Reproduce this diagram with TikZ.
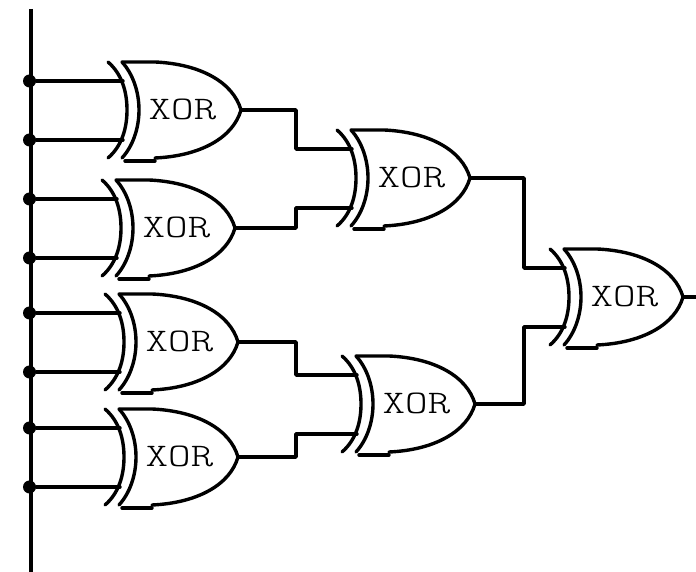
\documentclass[tikz,border=0pt]{standalone}
\usepackage{tikz}
\usepackage{fontspec}
\setmonofont{Latin Modern Mono Light}

\tikzset{
    wire/.style={line width=3.4pt, line cap=round, line join=round},
    busdot/.style={circle, fill=black, inner sep=0pt, minimum size=13pt},
    gatelabel/.style={font=\ttfamily\fontsize{33}{33}\selectfont, xscale=1.3, transform shape, inner sep=0pt},
    xorgate/.pic={
        % Back arcs
        \draw[wire] (0,48) .. controls (14,36) and (19,18) .. (19,0) .. controls (19,-18) and (14,-36) .. (0,-48);
        \draw[wire] (14,48) .. controls (25,36) and (31,18) .. (31,0) .. controls (31,-18) and (25,-36) .. (14,-48);
        % Body
        \draw[wire] (14,48) -- (47,48) .. controls (92,46) and (125,28) .. (133,0) .. controls (125,-28) and (92,-46) .. (47,-48);
        \draw[wire] (17,-51) -- (47,-51);
        \node[gatelabel] (label) at (74.5,1) {XOR};
        % Terminals
        \coordinate (a) at (15,29);
        \coordinate (b) at (15,-30);
        \coordinate (o) at (133,0);
    }
}

\begin{document}
\begin{tikzpicture}[x=1pt, y=1pt]
    \useasboundingbox (0,0) rectangle (696,572);

    % Gates
    \pic (g1) at (108,462) {xorgate};
    \pic (g2) at (102,344) {xorgate};
    \pic (g3) at (105,230) {xorgate};
    \pic (g4) at (105,115) {xorgate};
    \pic (g5) at (337,394) {xorgate};
    \pic (g6) at (342,168) {xorgate};
    \pic (g7) at (550,275) {xorgate};

    % Bus
    \coordinate (bustop) at (31,563);
    \coordinate (busbot) at (31,0);
    \draw[wire, line cap=butt] (bustop) -- (busbot);

    % Inputs
    \foreach \g in {g1,g2,g3,g4} {
        \node[busdot] (\g dota) at (29.5,0 |- \g a) {};
        \node[busdot] (\g dotb) at (29.5,0 |- \g b) {};
        \draw[wire] (\g dota) -- (\g a);
        \draw[wire] (\g dotb) -- (\g b);
    }

    % Between the gates
    \coordinate (midl) at (296,0);
    \coordinate (midr) at (524,0);
    \draw[wire] (g1o) -| (midl |- g5a) -- (g5a);
    \draw[wire] (g2o) -| (midl |- g5b) -- (g5b);
    \draw[wire] (g3o) -| (midl |- g6a) -- (g6a);
    \draw[wire] (g4o) -| (midl |- g6b) -- (g6b);
    \draw[wire] (g5o) -| (midr |- g7a) -- (g7a);
    \draw[wire] (g6o) -| (midr |- g7b) -- (g7b);

    % Output
    \coordinate (out) at (696,275);
    \draw[wire] (g7o) -- (out);
\end{tikzpicture}
\end{document}
